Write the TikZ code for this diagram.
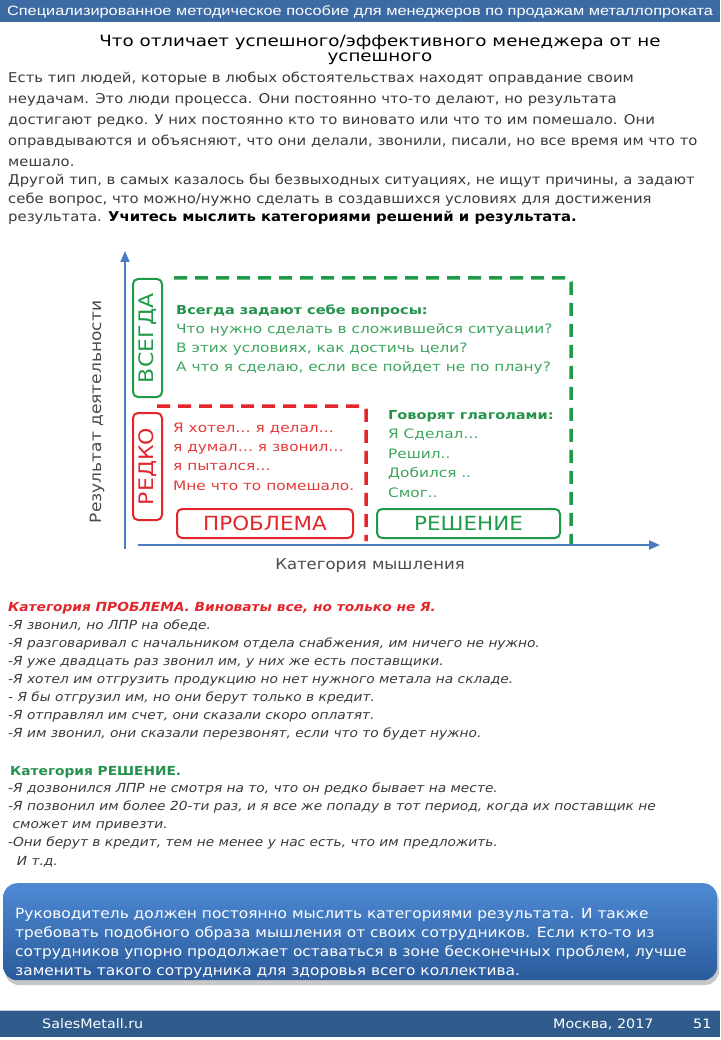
\documentclass[tikz,border=0pt]{standalone}
\usepackage{fontspec}
\setmainfont{DejaVu Sans}[FakeStretch=1.1]
\newfontfamily\widefont{DejaVu Sans}[FakeStretch=1.18]
\newfontfamily\hdrfont{Liberation Sans}
\usetikzlibrary{arrows.meta}
\definecolor{hdrblue}{HTML}{3C6AA3}
\definecolor{ftrblue}{HTML}{2F5B8D}
\definecolor{axblue}{HTML}{4A7CC0}
\definecolor{gdash}{HTML}{1F9A48}
\definecolor{gtext}{HTML}{3DA55E}
\definecolor{gbold}{HTML}{24924A}
\definecolor{rdash}{HTML}{E3262B}
\definecolor{rtext}{HTML}{E53A3A}
\definecolor{bodytxt}{HTML}{3A3A3A}
\definecolor{boxtop}{HTML}{4E8AD4}
\definecolor{boxbot}{HTML}{2A5B9C}
\newcommand\fs[2]{\fontsize{#1}{#2}\selectfont}
\begin{document}
\begin{tikzpicture}[x=1pt,y=-1pt,
  txt/.style={inner sep=0pt, anchor=base west, align=left},
  axisline/.style={draw=axblue, line width=2pt, -{Triangle[length=11pt,width=9pt]}},
  gdashed/.style={draw=gdash, line width=3.5pt, dash pattern=on 13pt off 8pt, rounded corners=4pt},
  rdashed/.style={draw=rdash, line width=3.5pt, dash pattern=on 13pt off 8pt, rounded corners=4pt},
  tagbox/.style={draw, line width=2pt, rounded corners=5pt, inner sep=0pt},
  bar/.style={inner sep=0pt, minimum width=720pt}
]
\useasboundingbox (0,0) rectangle (720,1040);
\fill[white] (0,0) rectangle (720,1040);

% header
\node[bar, fill=hdrblue, minimum height=22pt, anchor=north west] (hdr) at (0,0) {};
\node[inner sep=0pt, text=white, font=\hdrfont\fs{13.5}{15}] (hdrtxt) at (360,11.5)
  {\scalebox{1.21}[1]{Специализированное методическое  пособие для менеджеров по продажам металлопроката}};

% title (anchor = baseline of last line)
\node[inner sep=0pt, anchor=base, align=center, font=\widefont\fs{15.5}{15.5}, text=black] (title) at (380,62)
  {Что отличает успешного/эффективного менеджера от не\\успешного};

% intro paragraph
\node[txt, font=\fs{13.5}{21}, text=bodytxt] (intro1) at (8,167)
  {Есть тип людей, которые в любых обстоятельствах находят оправдание своим\\
   неудачам.  Это люди процесса.  Они постоянно что-то делают, но результата\\
   достигают редко. У них постоянно кто то виновато или что то им помешало. Они\\
   оправдываются и объясняют, что они делали, звонили, писали, но все время им что то\\
   мешало.};
\node[txt, font=\fs{13.5}{18.5}, text=bodytxt] (intro2) at (8,222)
  {Другой тип,  в самых казалось бы безвыходных ситуациях, не ищут причины, а задают\\
   себе вопрос,  что можно/нужно сделать в создавшихся условиях для достижения\\
   результата.  \textcolor{black}{\textbf{Учитесь мыслить категориями решений и результата.}}};

% chart axes
\coordinate (org) at (125,549);
\coordinate (ytop) at (125,251);
\coordinate (xorg) at (138,545);
\coordinate (xend) at (660,545);
\draw[axisline] (org) -- (ytop);
\draw[axisline] (xorg) -- (xend);
\node[inner sep=0pt, rotate=90, font=\fs{15.5}{18}, text=black!70] (ylab) at (97,412) {Результат деятельности};
\node[inner sep=0pt, font=\fs{15}{18}, text=black!70] (xlab) at (370,566) {Категория мышления};

% dashed regions
\draw[gdashed] (174,278) -- (571,278) -- (571,544);
\draw[rdashed] (157,406) -- (366,406) -- (366,541);

% tag boxes
\node[tagbox, draw=gdash, text=gdash, minimum width=118pt, minimum height=29pt, rotate=90, font=\fs{20}{22}] (vsegda) at (147.5,338) {ВСЕГДА};
\node[tagbox, draw=rdash, text=rdash, minimum width=107pt, minimum height=29pt, rotate=90, font=\fs{20}{22}] (redko) at (147.5,466.5) {РЕДКО};
\node[tagbox, draw=rdash, text=rdash, minimum width=176pt, minimum height=29pt, font=\fs{19.5}{22}] (problema) at (265,523.5) {ПРОБЛЕМА};
\node[tagbox, draw=gdash, text=gdash, minimum width=183pt, minimum height=29pt, font=\fs{19.5}{22}] (reshenie) at (468.5,523.5) {РЕШЕНИЕ};

% chart texts (anchor = baseline of last line)
\node[txt, font=\widefont\fs{13}{18.7}, text=gtext] (always) at (176,371)
  {\textcolor{gbold}{\fs{12.3}{18.7}\textbf{Всегда задают себе вопросы:}}\\
   Что нужно сделать в сложившейся ситуации?\\
   В этих условиях, как достичь цели?\\
   А что я сделаю, если все  пойдет не по плану?};
\node[txt, font=\widefont\fs{13}{19.3}, text=rtext] (rarely) at (173,490)
  {Я хотел… я делал…\\
   я думал… я звонил…\\
   я пытался…\\
   Мне что то помешало.};
\node[txt, font=\widefont\fs{13}{19.5}, text=gtext] (verbs) at (388,497)
  {\textcolor{gbold}{\fs{12.3}{19.5}\textbf{Говорят глаголами:}}\\
   Я Сделал…\\
   Решил..\\
   Добился ..\\
   Смог..};

% category problem
\node[txt, font=\fs{12.5}{18}\itshape, text=bodytxt] (catprob) at (8,737)
  {\textcolor{rdash}{\textbf{Категория ПРОБЛЕМА. Виноваты все, но только не Я.}}\\
   -Я звонил, но ЛПР на обеде.\\
   -Я разговаривал с начальником отдела снабжения, им  ничего не нужно.\\
   -Я уже двадцать раз звонил им, у них же есть поставщики.\\
   -Я хотел им отгрузить продукцию но нет нужного метала на складе.\\
   - Я бы отгрузил им, но они берут только  в кредит.\\
   -Я отправлял им счет, они сказали скоро оплатят.\\
   -Я им звонил, они сказали перезвонят, если что то будет нужно.};

% category solution
\node[txt, font=\fs{12.5}{18}, text=gbold] (catsol) at (10,775) {\textbf{Категория РЕШЕНИЕ.}};
\node[txt, font=\fs{12.5}{18.2}\itshape, text=bodytxt] (sollines) at (8,865)
  {-Я дозвонился  ЛПР не смотря на то, что он редко бывает на месте.\\
   -Я  позвонил  им более 20-ти раз,  и я все же попаду в тот период, когда их поставщик не\\
   \ сможет им привезти.\\
   -Они берут в кредит, тем не менее у нас есть, что им предложить.\\
   \ \ И т.д.};

% summary box
\fill[black!22, rounded corners=14pt] (5,888) rectangle (719,985);
\node[inner sep=0pt, minimum width=714pt, minimum height=97pt, rounded corners=14pt,
      top color=boxtop, bottom color=boxbot, anchor=north west] (sumbox) at (3,883) {};
\node[txt, font=\fs{14}{19}, text=white] (sumtxt) at (15,975)
  {Руководитель должен постоянно мыслить категориями результата.  И также\\
   требовать подобного образа мышления от своих сотрудников. Если кто-то из\\
   сотрудников упорно продолжает оставаться в зоне бесконечных проблем, лучше\\
   заменить такого сотрудника для здоровья всего коллектива.};

% footer
\node[bar, fill=ftrblue, minimum height=27pt, anchor=north west] (ftr) at (0,1010) {};
\draw[white!70!ftrblue, line width=1pt] (ftr.north west) -- (ftr.north east);
\node[txt, font=\fs{13}{15}, text=white] (site) at (42,1028) {SalesMetall.ru};
\node[txt, font=\fs{13}{15}, text=white] (city) at (553,1028) {Москва, 2017};
\node[txt, font=\fs{13}{15}, text=white] (page) at (693,1028) {51};
\end{tikzpicture}
\end{document}
